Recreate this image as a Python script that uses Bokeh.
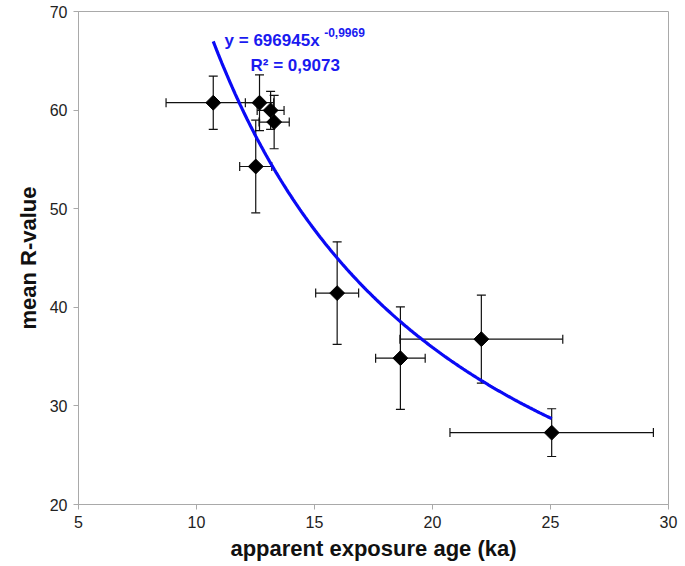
import math
import numpy as np
from bokeh.plotting import figure
from bokeh.models import ColumnDataSource, Whisker, TeeHead, Label, Range1d, FixedTicker
from bokeh.embed import file_html
from bokeh.resources import INLINE

# ---- data ----
age_ka = [10.71, 12.67, 13.14, 13.29, 12.51, 15.96, 18.64, 22.07, 25.05]
age_err = [2.00, 0.60, 0.57, 0.64, 0.68, 0.91, 1.05, 3.45, 4.31]
r_value = [60.75, 60.75, 59.97, 58.79, 54.28, 41.44, 34.84, 36.77, 27.29]
r_err = [2.70, 2.83, 1.93, 2.71, 4.70, 5.20, 5.20, 4.47, 2.42]

# power-law trend y = a * (age in years)^b, as printed on the chart
fit_a = 696945
fit_b = -0.9969
eq_text = "y = 696945x"
eq_exp_text = "-0,9969"
r2_text = "R\u00b2 = 0,9073"

x_ticks = [5, 10, 15, 20, 25, 30]
y_ticks = [20, 30, 40, 50, 60, 70]

# ---- derived ----
ax = np.array(age_ka)
axe = np.array(age_err)
ry = np.array(r_value)
rye = np.array(r_err)
src = ColumnDataSource(dict(
    x=ax, y=ry,
    xl=ax - axe, xu=ax + axe,
    yl=ry - rye, yu=ry + rye,
))

fx = np.linspace(min(age_ka), max(age_ka), 200)
fy = fit_a * (fx * 1000.0) ** fit_b

FONT = "Liberation Sans"
AXIS_GREY = "#a9a9a9"

p = figure(width=678, height=564, output_backend="svg", toolbar_location=None,
           x_range=Range1d(5, 30), y_range=Range1d(20, 70),
           min_border_left=78, min_border_right=10, min_border_top=11, min_border_bottom=60)
p.xgrid.visible = False
p.ygrid.visible = False
p.outline_line_color = AXIS_GREY
p.outline_line_width = 1
p.background_fill_color = "white"
p.border_fill_color = "white"

for axis, ticks in ((p.xaxis[0], x_ticks), (p.yaxis[0], y_ticks)):
    axis.ticker = FixedTicker(ticks=ticks)
    axis.minor_tick_line_color = None
    axis.axis_line_color = AXIS_GREY
    axis.major_tick_line_color = AXIS_GREY
    axis.major_tick_out = 5
    axis.major_tick_in = 0
    axis.major_label_text_font = FONT
    axis.major_label_text_font_size = "16px"
    axis.major_label_text_color = "#222222"
    axis.major_label_standoff = 6
    axis.axis_label_text_font = FONT
    axis.axis_label_text_font_size = "22px"
    axis.axis_label_text_font_style = "bold"
    axis.axis_label_text_color = "#111111"

p.xaxis.axis_label = "apparent exposure age (ka)"
p.yaxis.axis_label = "mean R-value"
p.xaxis.axis_label_standoff = 5
p.yaxis.axis_label_standoff = 6

# error bars
wx = Whisker(base="y", lower="xl", upper="xu", dimension="width", source=src,
             line_color="#111111", line_width=1.2,
             upper_head=TeeHead(size=9, line_color="#111111", line_width=1.2),
             lower_head=TeeHead(size=9, line_color="#111111", line_width=1.2))
wy = Whisker(base="x", lower="yl", upper="yu", dimension="height", source=src,
             line_color="#111111", line_width=1.2,
             upper_head=TeeHead(size=9, line_color="#111111", line_width=1.2),
             lower_head=TeeHead(size=9, line_color="#111111", line_width=1.2))
p.add_layout(wx)
p.add_layout(wy)

# trend line
p.line(fx, fy, line_color="#0a0af5", line_width=3.2)

# markers
p.scatter("x", "y", source=src, marker="square", angle=math.pi / 4, size=10.5,
          fill_color="black", line_color="black")

# equation labels
lab_kw = dict(x_units="data", y_units="data", text_font=FONT, text_font_style="bold",
              text_color="#1a1af0", text_baseline="alphabetic", text_align="left")
p.add_layout(Label(x=11.19, y=67.08, text=eq_text, text_font_size="17px", **lab_kw))
p.add_layout(Label(x=15.41, y=67.84, text=eq_exp_text, text_font_size="12px", **lab_kw))
p.add_layout(Label(x=12.29, y=64.54, text=r2_text, text_font_size="17px", **lab_kw))

open("out.html", "w").write(file_html(p, INLINE))
